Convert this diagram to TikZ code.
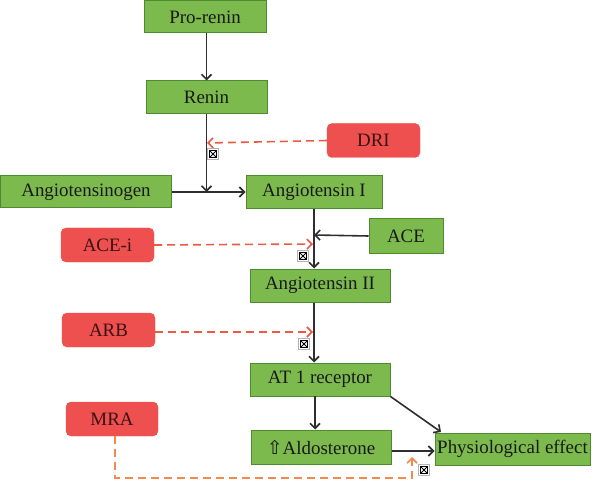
\documentclass[tikz,border=0pt]{standalone}
\usepackage{fontspec}
\setmainfont{Liberation Serif}
\newfontfamily\symfont{DejaVu Sans}
\usetikzlibrary{arrows.meta,calc}
\definecolor{gfill}{HTML}{7DBA4E}
\definecolor{gline}{HTML}{4E8A2E}
\definecolor{rfill}{HTML}{EE5050}
\definecolor{rtext}{HTML}{3A1212}
\definecolor{dashred}{HTML}{EA5A44}
\definecolor{dashorange}{HTML}{F08A4E}
\definecolor{lk}{HTML}{2E2E2E}
\tikzset{
  gbox/.style={draw=gline, fill=gfill, line width=1bp, inner sep=0pt, text=black!90,
    font=\fontsize{19}{21}\selectfont},
  rbox/.style={draw=rfill, fill=rfill, rounded corners=5bp, inner sep=0pt, text=rtext,
    minimum width=93bp, minimum height=34bp, font=\fontsize{19}{21}\selectfont},
  tip/.style={-{Straight Barb[length=5bp,width=10bp,line width=1.6bp]}},
  link/.style={tip, draw=lk, line width=1.6bp},
  inhib/.style={tip, draw=dashred, line width=1.6bp, dash pattern=on 8bp off 5bp},
  inhibo/.style={tip, draw=dashorange, line width=1.6bp, dash pattern=on 8bp off 5bp},
  blockmark/.pic={
    \draw[draw=gray!60, fill=white, line width=0.7bp] (-5.5,-5.5) rectangle (5.5,5.5);
    \draw[draw=black, line width=0.9bp] (-3.4,-3.4) rectangle (3.4,3.4);
    \draw[draw=black, line width=0.9bp] (-3.4,-3.4) -- (3.4,3.4) (-3.4,3.4) -- (3.4,-3.4);
  }
}
\begin{document}
\begin{tikzpicture}[x=1bp,y=-1bp]
\useasboundingbox (0,0) rectangle (592,481);
% green nodes
\node[gbox, minimum width=122bp, minimum height=32bp] (prorenin) at (205,17) {Pro-renin};
\node[gbox, minimum width=121bp, minimum height=33bp] (renin) at (206.5,97.5) {Renin};
\node[gbox, minimum width=170bp, minimum height=32bp] (agen) at (86,192) {Angiotensinogen};
\node[gbox, minimum width=136bp, minimum height=33bp] (ang1) at (314,192.5) {Angiotensin I};
\node[gbox, minimum width=74bp, minimum height=34bp] (ace) at (406,236) {ACE};
\node[gbox, minimum width=140bp, minimum height=33bp] (ang2) at (320,285.5) {Angiotensin II};
\node[gbox, minimum width=140bp, minimum height=33bp] (at1) at (320,379.5) {AT 1 receptor};
\node[gbox, minimum width=140bp, minimum height=34bp] (aldo) at (321,447) {{\symfont\fontsize{19}{21}\selectfont ⇧}Aldosterone};
\node[gbox, minimum width=155bp, minimum height=32bp] (phys) at (512.5,449) {Physiological effect};
% red nodes
\node[rbox] (dri) at (373.5,140.5) {DRI};
\node[rbox] (acei) at (107.5,245) {ACE-i};
\node[rbox] (arb) at (108.5,330) {ARB};
\node[rbox, minimum width=92bp] (mra) at (112,419) {MRA};
% junction coordinates
\coordinate (j1) at (206.5,192);
\coordinate (jdri) at (207,143);
\coordinate (jace) at (314,235);
\coordinate (jacei) at (313,244);
\coordinate (jarb) at (313,332);
\coordinate (jmra) at (412,457);
\coordinate (mcorner1) at (115,478);
\coordinate (mcorner2) at (412,478);
% main chain
\draw[link] (prorenin.south -| renin) -- (renin.north);
\draw[link] (renin.south) -- (j1);
\draw[link] (agen.east) -- (agen.east -| ang1.west);
\draw[link] (ang1.south) -- (ang1.south |- ang2.north);
\draw[link] (ace.west) -- (jace);
\draw[link] (ang1.south |- ang2.south) -- (ang1.south |- at1.north);
\draw[link] (315,396) -- (aldo.north -| 315,0);
\draw[link] (at1.south east) -- (441,432);
\draw[link] (aldo.east |- 0,451) -- (phys.west |- 0,451);
% inhibitors
\draw[inhib] (dri.west) -- (jdri);
\draw[inhib] (acei.east) -- (jacei);
\draw[inhib] (arb.east |- jarb) -- (jarb);
\draw[inhibo] (mra.south -| mcorner1) -- (mcorner1) -- (mcorner2) -- (jmra);
% block marks
\pic at (213,154) {blockmark};
\pic at (303,256) {blockmark};
\pic at (304,344) {blockmark};
\pic at (424,470) {blockmark};
\end{tikzpicture}
\end{document}
